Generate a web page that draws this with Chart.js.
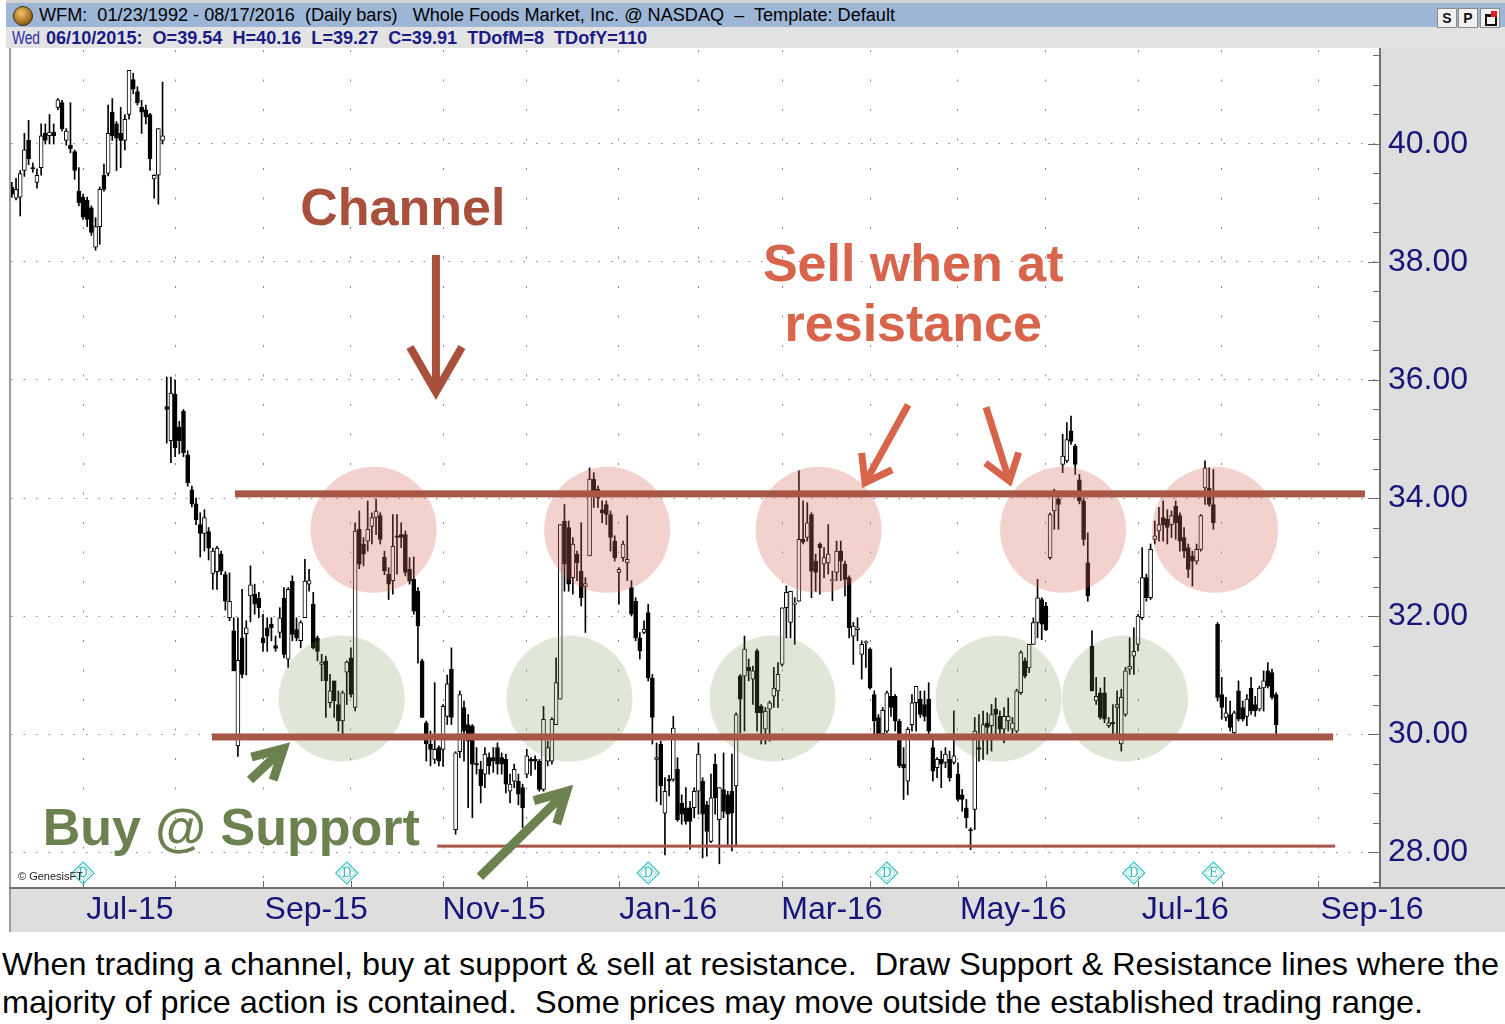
<!DOCTYPE html>
<html>
<head>
<meta charset="utf-8">
<title>WFM channel</title>
<script src="https://cdn.jsdelivr.net/npm/chart.js@4.4.1/dist/chart.umd.min.js"></script>
<style>
  html, body { margin: 0; padding: 0; background: #fff; }
  body { position: relative; width: 1505px; height: 1024px; overflow: hidden; font-family: "Liberation Sans", Arial, sans-serif; }
  #topEdge { position: absolute; left: 6px; top: 0; width: 1499px; height: 3px; background: #d2d2d2; }
  #titleBar { position: absolute; left: 6px; top: 3px; width: 1499px; height: 24px; background: #9db6d6; }
  #infoBar { position: absolute; left: 6px; top: 27px; width: 1499px; height: 21px; background: #e3e3e3; }
  .narrow { position: absolute; white-space: pre; font-family: "Liberation Sans Narrow", "Liberation Sans", Arial, sans-serif; font-size: 18px; line-height: 20px; transform-origin: 0 50%; }
  #logo { position: absolute; left: 13px; top: 6px; width: 18px; height: 18px; border-radius: 50%; background: radial-gradient(circle at 40% 35%, #f4c466, #a06a1c 65%, #4a2a08); border: 1px solid #3a2a10; }
  .btn { position: absolute; top: 8px; width: 18px; height: 18px; background: #f1f1f1; border: 1px solid #8a8a8a; font: bold 14px "Liberation Sans", Arial, sans-serif; text-align: center; line-height: 18px; color: #111; }
  .btn i { position: absolute; left: 4px; top: 5px; width: 8px; height: 7px; border: 2px solid #111; border-top-width: 3px; }
  .btn b { position: absolute; right: 2px; top: 2px; width: 6px; height: 6px; background: #e02020; }
  #chartBox { position: absolute; left: 0; top: 48px; width: 1505px; height: 884px; }
  .cap { position: absolute; left: 2px; white-space: pre; font-size: 32px; line-height: 38px; color: #000; transform-origin: 0 50%; }
</style>
</head>
<body>
<div id="topEdge"></div>
<div id="titleBar"></div>
<div id="infoBar"></div>
<div id="logo"></div>
<div id="titleText" class="narrow" style="left:39px; top:5px; color:#000;">WFM:  01/23/1992 - 08/17/2016  (Daily bars)   Whole Foods Market, Inc. @ NASDAQ  –  Template: Default</div>
<div id="wedText" class="narrow" style="left:12px; top:28px; color:#2b2ba6;">Wed</div>
<div id="barText" class="narrow" style="left:46px; top:28px; color:#1a1a86; font-weight:bold;">06/10/2015:  O=39.54  H=40.16  L=39.27  C=39.91  TDofM=8  TDofY=110</div>
<div class="btn" style="left:1437px;">S</div>
<div class="btn" style="left:1458px;">P</div>
<div class="btn" style="left:1480px;"><i></i><b></b></div>
<div id="chartBox"><canvas id="wfmChart" width="1505" height="884"></canvas></div>
<div id="capLine1" class="cap" style="top:945px;">When trading a channel, buy at support &amp; sell at resistance.  Draw Support &amp; Resistance lines where the</div>
<div id="capLine2" class="cap" style="top:983px;">majority of price action is contained.  Some prices may move outside the established trading range.</div>

<script>
// daily bars (index 0 = first visible bar, early June 2015)
const openPx = [
    39.27,39.08,39.10,39.55,40.06,39.60,39.35,39.60,40.18,40.14,
    40.20,40.62,40.70,40.06,39.98,39.87,39.20,39.10,39.05,38.92,
    38.25,38.60,39.47,39.50,40.54,40.34,40.18,40.06,40.50,41.09,
    40.89,40.62,40.58,40.50,39.41,39.47,40.06,35.55,34.97,35.76,
    35.20,35.47,34.73,34.14,33.90,33.55,33.40,33.43,32.72,32.75,
    33.05,32.70,31.97,31.75,29.80,31.63,31.70,32.34,32.37,32.30,
    31.63,31.80,31.86,31.50,31.72,32.30,31.27,32.59,31.77,31.58,
    31.97,32.54,32.20,31.63,31.18,31.24,30.53,30.90,30.50,30.22,
    31.05,31.29,30.45,33.47,33.22,33.27,33.52,33.67,33.70,33.00,
    32.71,32.60,33.36,33.38,33.38,32.79,32.62,32.42,31.24,30.19,
    29.83,29.57,29.77,29.74,30.30,31.10,28.38,29.70,30.45,30.16,
    30.14,29.50,29.40,29.32,29.60,29.60,29.77,29.60,29.57,29.03,
    29.20,29.20,29.09,29.32,29.57,29.57,29.54,29.06,29.54,29.54,
    30.16,30.59,33.61,33.50,32.65,33.05,32.76,32.50,33.02,34.32,
    34.15,33.80,33.89,33.72,33.27,32.74,32.99,32.90,32.48,32.25,
    31.63,31.72,32.06,30.95,29.57,29.83,28.66,29.23,29.23,29.40,
    28.83,28.75,28.75,28.75,29.03,29.20,28.80,28.18,29.49,28.55,
    29.06,28.97,29.03,29.12,30.98,30.98,31.13,30.93,31.41,30.47,
    30.08,30.42,30.64,30.73,31.18,32.14,31.89,32.20,32.25,33.30,
    33.33,33.72,32.93,33.22,32.88,32.90,32.60,32.74,33.10,32.88,
    32.65,31.66,31.77,31.35,31.55,31.44,30.67,30.28,30.00,30.05,
    30.64,30.64,30.22,29.49,29.20,30.16,30.53,30.59,30.50,30.59,
    29.77,29.43,29.57,29.52,29.57,29.52,29.32,28.97,28.75,28.38,
    28.72,29.77,29.99,30.19,30.14,30.42,30.30,30.08,30.22,30.08,
    30.05,30.70,31.24,31.12,31.52,31.89,32.28,32.17,32.99,33.78,
    33.98,34.57,34.63,35.14,34.88,34.31,33.95,32.90,31.49,30.56,
    30.70,30.70,30.14,30.20,30.45,29.83,30.33,31.10,31.32,31.52,
    31.97,32.65,32.31,33.30,33.44,33.67,33.64,33.55,33.86,33.70,
    33.33,33.16,33.02,32.93,33.13,34.17,34.17,33.89,31.86,30.67,
    30.28,30.33,30.02,30.73,30.45,30.30,30.78,30.50,30.42,30.78,
    31.07,31.04,30.67
];
const highPx = [
    39.35,39.42,39.55,40.18,40.40,39.68,39.58,40.34,40.34,40.50,
    40.34,40.77,40.74,40.26,40.70,39.90,39.60,39.15,39.10,38.95,
    38.75,39.27,39.66,40.66,40.77,40.38,40.62,40.50,41.25,41.20,
    40.97,40.74,40.66,40.52,39.48,40.26,41.05,36.05,36.05,36.00,
    35.30,35.50,34.80,34.20,34.00,33.75,33.80,33.50,33.15,33.18,
    33.10,32.75,32.73,31.97,31.97,32.45,31.92,32.85,32.54,32.40,
    32.03,31.97,31.97,31.66,32.14,32.48,32.48,32.68,31.97,31.92,
    32.96,32.79,32.40,31.66,31.35,31.32,31.01,30.90,30.73,30.73,
    31.24,31.46,33.58,33.78,33.33,33.95,33.75,33.98,33.75,33.10,
    32.82,33.72,33.72,33.58,33.44,32.99,33.00,32.48,31.27,30.22,
    30.05,30.87,29.80,30.50,31.00,31.46,29.70,30.73,30.56,30.33,
    30.16,29.77,29.54,29.77,29.68,29.77,29.85,29.68,29.66,29.32,
    29.49,29.32,29.15,29.74,29.60,29.63,29.57,30.47,29.88,30.28,
    31.29,33.55,33.89,33.61,33.33,33.10,33.58,32.65,34.51,34.43,
    34.20,33.95,33.95,33.78,33.36,32.82,33.27,33.70,32.60,32.31,
    31.72,31.92,32.20,31.01,29.85,29.88,29.26,29.30,30.30,29.60,
    28.97,29.09,28.86,29.09,29.85,29.26,28.86,29.32,29.66,29.09,
    29.68,29.03,29.66,30.36,31.01,31.66,31.27,31.15,31.44,30.50,
    30.45,30.56,31.13,31.21,32.14,32.51,32.42,32.31,34.46,33.95,
    33.92,33.75,33.05,33.24,33.16,33.55,32.76,33.27,33.27,32.93,
    32.68,31.89,31.97,31.58,31.58,31.46,30.73,30.33,30.45,30.73,
    31.12,30.67,30.25,29.77,30.11,30.67,30.81,30.73,30.73,30.87,
    29.94,29.60,29.71,29.77,29.71,30.39,29.51,29.06,28.89,28.41,
    30.28,30.33,30.39,30.36,30.50,30.61,30.39,30.45,30.61,30.28,
    30.76,31.41,31.29,31.52,31.97,32.62,32.31,32.23,33.75,34.15,
    34.12,35.08,35.28,35.39,34.91,34.40,34.00,33.41,31.75,30.96,
    30.78,30.96,30.28,30.50,30.73,30.76,31.13,31.63,31.80,32.03,
    33.16,32.71,33.22,33.61,33.84,33.95,33.80,33.78,33.95,33.75,
    33.50,33.22,33.10,33.22,33.72,34.63,34.51,34.48,31.89,30.96,
    30.62,30.56,30.39,30.90,30.56,30.67,30.96,30.64,30.81,31.07,
    31.21,31.10,30.70
];
const lowPx = [
    39.10,39.05,38.78,39.45,39.65,39.52,39.25,39.47,40.00,40.00,
    40.00,40.58,40.22,39.98,39.85,39.40,38.95,38.72,38.60,38.45,
    38.20,38.30,39.20,39.46,40.06,39.55,39.60,39.90,40.42,40.85,
    40.66,40.18,40.34,39.55,39.08,38.98,40.00,34.93,34.60,34.70,
    34.75,34.70,34.20,33.85,33.55,33.00,33.10,32.95,32.45,32.45,
    32.70,32.10,31.92,31.07,29.62,30.95,31.00,31.90,32.03,31.97,
    31.40,31.40,31.58,31.40,31.63,31.29,31.13,31.58,31.58,31.46,
    31.97,32.42,31.44,31.24,30.90,30.28,30.45,30.28,30.05,30.00,
    30.50,30.62,30.39,32.80,32.85,33.10,33.22,33.38,33.22,32.70,
    32.28,32.37,32.71,33.16,32.68,32.54,32.03,31.20,30.28,29.54,
    29.46,29.50,29.46,29.45,30.16,30.16,28.30,29.60,29.54,28.75,
    28.58,29.32,28.83,29.09,29.32,29.35,29.32,29.32,29.00,28.83,
    29.09,28.80,28.41,29.26,29.30,29.40,29.03,29.03,29.46,29.49,
    30.16,30.59,32.42,32.42,32.37,32.60,32.17,31.72,33.02,33.84,
    33.84,33.58,33.55,33.10,32.93,32.20,32.93,32.60,32.00,31.58,
    31.27,31.70,30.90,29.83,28.86,28.80,27.95,28.95,29.20,28.52,
    28.47,28.47,28.05,28.58,28.64,27.90,27.93,28.16,28.64,27.80,
    28.58,28.13,28.02,28.10,30.02,30.05,30.90,30.50,30.05,29.83,
    29.83,29.88,30.45,30.45,31.15,31.63,31.63,31.52,32.25,33.22,
    33.27,32.31,32.42,32.37,32.65,32.71,32.26,32.60,32.60,32.34,
    31.63,31.18,31.58,30.93,31.13,30.76,30.00,29.99,29.98,30.02,
    30.30,30.05,29.43,28.89,28.97,30.05,30.05,30.28,30.22,29.99,
    29.20,29.26,29.09,29.43,29.20,29.49,28.86,28.69,28.41,28.04,
    28.38,29.54,29.57,29.66,29.71,30.00,29.94,29.85,30.05,29.99,
    30.02,30.67,30.95,31.04,31.52,31.63,31.60,31.75,32.96,33.47,
    33.47,34.43,34.60,34.91,34.40,33.90,33.20,32.25,30.73,30.50,
    30.25,30.19,30.11,29.99,29.99,29.71,30.30,31.01,31.01,31.41,
    31.94,32.25,32.28,33.22,33.27,33.27,33.22,33.33,33.30,33.10,
    32.99,32.65,32.51,32.88,33.10,33.89,33.86,33.47,30.56,30.25,
    30.22,30.05,29.99,30.22,30.22,30.14,30.33,30.30,30.39,30.39,
    30.78,30.59,29.99
];
const closePx = [
    39.15,39.23,39.50,39.90,39.75,39.58,39.47,40.14,40.06,40.20,
    40.14,40.75,40.26,40.22,39.92,39.55,39.00,38.76,38.72,38.50,
    38.60,39.23,39.23,40.18,40.14,40.10,40.06,40.42,41.25,40.93,
    40.70,40.54,40.46,39.75,39.47,40.26,40.14,35.50,35.78,34.85,
    34.97,34.77,34.26,33.90,33.63,33.40,33.67,33.15,33.10,33.15,
    32.76,32.25,32.25,31.07,31.25,31.01,31.80,32.53,32.20,32.14,
    31.55,31.66,31.80,31.45,31.97,31.35,32.45,31.69,31.63,31.89,
    32.59,32.60,31.46,31.40,31.22,30.90,30.73,30.56,30.22,30.70,
    31.22,30.67,33.44,32.88,33.05,33.47,33.67,33.78,33.30,32.76,
    32.54,33.18,33.33,33.33,32.74,32.59,32.08,31.83,30.28,29.83,
    29.74,29.74,29.54,30.47,30.85,30.28,29.68,30.67,30.05,29.88,
    29.49,29.48,29.12,29.66,29.46,29.54,29.49,29.49,29.15,29.15,
    29.40,28.98,28.75,29.63,29.54,29.54,29.06,30.25,29.77,30.25,
    30.87,33.55,32.88,32.54,33.22,32.90,32.31,32.55,34.32,34.12,
    34.00,33.75,33.72,33.33,32.99,32.79,33.22,32.96,32.03,31.63,
    31.41,31.78,30.95,30.28,29.60,29.12,29.03,29.20,30.10,28.55,
    28.64,28.52,28.52,29.03,29.66,28.64,28.35,28.92,28.92,29.09,
    28.69,28.64,28.66,30.33,30.59,31.44,31.07,31.07,30.36,30.36,
    30.39,30.53,30.78,31.01,32.14,32.40,32.42,32.20,33.30,33.25,
    33.58,32.76,32.74,33.16,32.99,33.05,32.60,33.10,32.93,32.62,
    31.80,31.83,31.80,31.52,31.55,30.78,30.22,29.99,30.40,30.70,
    30.45,30.22,29.46,29.43,30.08,30.53,30.81,30.33,30.30,30.05,
    29.37,29.57,29.49,29.66,29.26,29.63,28.89,28.89,28.58,28.36,
    30.05,29.74,30.16,30.11,30.33,30.33,30.08,30.30,30.30,30.19,
    30.73,31.38,30.98,31.52,31.89,32.31,31.86,31.77,33.72,34.12,
    33.89,34.71,34.99,34.96,34.57,33.95,33.30,32.34,30.73,30.64,
    30.28,30.25,30.19,30.17,30.50,30.62,31.07,31.15,31.40,32.00,
    32.65,32.31,33.13,33.36,33.55,33.55,33.50,33.70,33.58,33.27,
    33.10,32.79,32.93,33.13,33.70,34.51,33.89,33.58,30.62,30.45,
    30.36,30.11,30.36,30.25,30.25,30.59,30.39,30.39,30.78,30.90,
    30.81,30.62,30.16
];

// bar index where each month begins (Jul-15 .. Sep-16)
const monthStarts = [17, 39, 60, 81, 103, 123, 145, 164, 184, 205, 226, 247, 269, 289, 312];
const monthLabelPos = [28.2, 72.7, 115.2, 156.8, 195.9, 239.2, 280.3, 324.9];
const monthLabels = ['Jul-15', 'Sep-15', 'Nov-15', 'Jan-16', 'Mar-16', 'May-16', 'Jul-16', 'Sep-16'];

// event markers under the bars
const eventIdx = [17, 80, 152, 209, 268, 287];
const eventCode = ['D', 'D', 'D', 'D', 'D', 'E'];

// channel drawing: levels, zones, arrows (bar index, price)
const channelLevels = [34.07, 29.95, 28.10];
const levelFrom = [53.3, 47.8, 101.6];
const levelTo = [323.2, 315.6, 316.1];
const sellZoneIdx = [86.4, 142.2, 192.7, 251.1, 287.4];
const sellZonePrice = 33.46;
const buyZoneIdx = [78.8, 133.2, 181.7, 235.7, 265.9];
const buyZonePrice = 30.60;
const arrowTail = [[101.3, 38.12], [214.1, 35.58], [232.7, 35.54], [56.9, 29.22], [111.8, 27.58]];
const arrowTip = [[101.3, 35.66], [203.1, 34.17], [238.7, 34.19], [66.5, 29.86], [134.1, 29.14]];

const BROWN = '#a8503c';
const LINE_BROWN = '#a85646';
const SALMON = '#d8654b';
const OLIVE = '#6b8250';

const fitText = (id, target) => {
    const el = document.getElementById(id);
    const w = el.getBoundingClientRect().width;
    if (w > 0) el.style.transform = `scaleX(${target / w})`;
};
fitText('titleText', 856);
fitText('wedText', 28);
fitText('barText', 601);
fitText('capLine1', 1497);
fitText('capLine2', 1421);

const isMajor = (v) => Math.abs(v / 2 - Math.round(v / 2)) < 1e-6;

const drawArrow = (ctx, x1, y1, x2, y2, head, spread, width, color) => {
    const ang = Math.atan2(y2 - y1, x2 - x1);
    const back = width / 2 / Math.sin(spread);
    const tx = x2 - Math.cos(ang) * back;
    const ty = y2 - Math.sin(ang) * back;
    ctx.strokeStyle = color;
    ctx.lineWidth = width;
    ctx.lineCap = 'butt';
    ctx.lineJoin = 'miter';
    ctx.miterLimit = 10;
    ctx.beginPath();
    ctx.moveTo(x1, y1);
    ctx.lineTo(tx, ty);
    ctx.stroke();
    ctx.beginPath();
    ctx.moveTo(tx - head * Math.cos(ang - spread), ty - head * Math.sin(ang - spread));
    ctx.lineTo(tx, ty);
    ctx.lineTo(tx - head * Math.cos(ang + spread), ty - head * Math.sin(ang + spread));
    ctx.stroke();
};

const frameBackground = {
    id: 'frameBackground',
    beforeDraw(chart) {
        const { ctx, chartArea, width, height } = chart;
        ctx.save();
        ctx.fillStyle = '#dedede';
        ctx.fillRect(0, 0, width, height);
        ctx.fillStyle = '#ffffff';
        ctx.fillRect(0, 0, 9, height);
        ctx.fillRect(11, 0, chartArea.right - 11, chartArea.bottom);
        ctx.restore();
    }
};

const channelNotes = {
    id: 'channelNotes',
    afterDatasetsDraw(chart) {
        const { ctx, chartArea } = chart;
        const sx = v => chart.scales.x.getPixelForValue(v);
        const sy = v => chart.scales.y.getPixelForValue(v);
        ctx.save();
        ctx.beginPath();
        ctx.rect(chartArea.left, chartArea.top, chartArea.right - chartArea.left, chartArea.bottom - chartArea.top);
        ctx.clip();

        const zone = (x, y, color) => {
            ctx.fillStyle = color;
            ctx.beginPath();
            ctx.arc(x, y, 63, 0, Math.PI * 2);
            ctx.fill();
        };
        sellZoneIdx.forEach(i => zone(sx(i), sy(sellZonePrice), 'rgba(214,104,86,0.30)'));
        buyZoneIdx.forEach(i => zone(sx(i), sy(buyZonePrice), 'rgba(112,142,78,0.22)'));

        const levelWidth = [7, 7, 3];
        channelLevels.forEach((p, k) => {
            ctx.fillStyle = LINE_BROWN;
            const y = sy(p);
            ctx.fillRect(sx(levelFrom[k]), y - levelWidth[k] / 2, sx(levelTo[k]) - sx(levelFrom[k]), levelWidth[k]);
        });

        const arrowStyle = [
            [52, Math.PI / 6, 8, BROWN],
            [30, 0.62, 7, SALMON],
            [30, 0.62, 7, SALMON],
            [33, 0.5, 9, OLIVE],
            [34, 0.5, 9, OLIVE]
        ];
        arrowTail.forEach((t, k) => {
            const [h, s, w, c] = arrowStyle[k];
            drawArrow(ctx, sx(t[0]), sy(t[1]), sx(arrowTip[k][0]), sy(arrowTip[k][1]), h, s, w, c);
        });

        ctx.font = 'bold 52px "Liberation Sans", Arial, sans-serif';
        ctx.textAlign = 'center';
        ctx.textBaseline = 'alphabetic';
        ctx.fillStyle = BROWN;
        ctx.fillText('Channel', sx(93.4), sy(38.63));
        ctx.fillStyle = SALMON;
        ctx.fillText('Sell when at', sx(215.3), sy(37.68));
        ctx.fillText('resistance', sx(215.3), sy(36.66));
        ctx.fillStyle = OLIVE;
        ctx.fillText('Buy @ Support', sx(52.4), sy(28.12));
        ctx.restore();
    },
    afterDraw(chart) {
        const { ctx, chartArea, width, height } = chart;
        const sx = v => chart.scales.x.getPixelForValue(v);
        const sy = v => chart.scales.y.getPixelForValue(v);
        ctx.save();
        // frame lines
        ctx.fillStyle = '#9c9c9c';
        ctx.fillRect(9, 0, 2, height);
        ctx.fillStyle = '#707070';
        ctx.fillRect(chartArea.right - 1, 0, 2, chartArea.bottom + 1);
        ctx.fillRect(9, chartArea.bottom, width - 9, 2);

        // price tick marks pointing into the plot
        ctx.strokeStyle = '#6a6a6a';
        ctx.lineWidth = 1;
        chart.scales.y.ticks.forEach(t => {
            const y = Math.round(sy(t.value)) + 0.5;
            const len = isMajor(t.value) ? 12 : 7;
            ctx.beginPath();
            ctx.moveTo(chartArea.right - len, y);
            ctx.lineTo(chartArea.right, y);
            ctx.stroke();
        });
        // month tick marks on the bottom edge
        monthStarts.forEach(m => {
            const x = Math.round(sx(m)) + 0.5;
            ctx.beginPath();
            ctx.moveTo(x, chartArea.bottom - 6);
            ctx.lineTo(x, chartArea.bottom);
            ctx.stroke();
        });

        // event diamonds
        const my = chartArea.bottom - 14;
        eventIdx.forEach((i, k) => {
            const x = sx(i);
            ctx.strokeStyle = '#3cc2c6';
            ctx.lineWidth = 1.2;
            ctx.beginPath();
            ctx.moveTo(x, my - 11);
            ctx.lineTo(x + 11, my);
            ctx.lineTo(x, my + 11);
            ctx.lineTo(x - 11, my);
            ctx.closePath();
            ctx.stroke();
            ctx.beginPath();
            ctx.moveTo(x, my - 8);
            ctx.lineTo(x + 8, my);
            ctx.lineTo(x, my + 8);
            ctx.lineTo(x - 8, my);
            ctx.closePath();
            ctx.lineWidth = 0.6;
            ctx.stroke();
            ctx.fillStyle = '#34b8bc';
            ctx.font = '12px "DejaVu Serif", serif';
            ctx.textAlign = 'center';
            ctx.textBaseline = 'middle';
            ctx.fillText(eventCode[k], x, my + 1);
        });

        ctx.fillStyle = '#222';
        ctx.font = '11px "Liberation Sans", Arial, sans-serif';
        ctx.textAlign = 'left';
        ctx.textBaseline = 'middle';
        ctx.fillText('\u00a9 GenesisFT', 18, chartArea.bottom - 10);
        ctx.restore();
    }
};

const days = openPx.map((_, i) => i);
const bodyData = days.map(i => ({ x: i, y: [Math.min(openPx[i], closePx[i]), Math.max(openPx[i], closePx[i])] }));
const wickData = days.map(i => ({ x: i, y: [lowPx[i], highPx[i]] }));
const bodyFill = days.map(i => (closePx[i] >= openPx[i] ? '#ffffff' : '#000000'));

Chart.defaults.font.family = '"Liberation Sans", Arial, sans-serif';

const xMin = -0.2;
const xMax = 326.8;

new Chart(document.getElementById('wfmChart').getContext('2d'), {
    type: 'bar',
    data: {
        datasets: [
            {
                label: 'Body',
                data: bodyData,
                backgroundColor: bodyFill,
                borderColor: '#000000',
                borderWidth: 1,
                borderSkipped: false,
                barThickness: 4,
                minBarLength: 1,
                grouped: false,
                order: 1
            },
            {
                label: 'Range',
                data: wickData,
                backgroundColor: '#000000',
                borderWidth: 0,
                barThickness: 1,
                grouped: false,
                order: 2
            }
        ]
    },
    options: {
        responsive: false,
        animation: false,
        devicePixelRatio: 1,
        layout: { padding: { left: 11, top: 2, right: 0, bottom: 0 } },
        plugins: {
            legend: { display: false },
            tooltip: { enabled: false }
        },
        scales: {
            x: {
                type: 'linear',
                position: 'bottom',
                min: xMin,
                max: xMax,
                offset: false,
                afterBuildTicks: (s) => { s.ticks = monthStarts.map(v => ({ value: v })); },
                afterFit: (s) => { s.height = 0; s.paddingLeft = 0; s.paddingRight = 0; },
                ticks: { display: false },
                grid: { color: '#8a8a8a', lineWidth: 1, drawTicks: false, offset: false },
                border: { display: false, dash: [2, 27.5] }
            },
            x2: {
                type: 'linear',
                position: 'bottom',
                min: xMin,
                max: xMax,
                offset: false,
                afterBuildTicks: (s) => { s.ticks = monthLabelPos.map(v => ({ value: v })); },
                afterFit: (s) => { s.height = 45; s.paddingLeft = 0; s.paddingRight = 0; },
                ticks: {
                    autoSkip: false,
                    maxRotation: 0,
                    padding: 4,
                    color: '#15157a',
                    font: { size: 32 },
                    callback: (v) => {
                        const k = monthLabelPos.indexOf(v);
                        return k >= 0 ? monthLabels[k] : '';
                    }
                },
                grid: { display: false, drawTicks: false },
                border: { display: false }
            },
            y: {
                type: 'linear',
                position: 'right',
                min: 27.407,
                max: 41.593,
                afterFit: (s) => { s.width = 125; s.paddingTop = 0; s.paddingBottom = 0; },
                ticks: {
                    stepSize: 0.5,
                    includeBounds: false,
                    autoSkip: false,
                    padding: 8,
                    color: '#15157a',
                    font: { size: 32 },
                    callback: (v) => (isMajor(v) ? v.toFixed(2) : '')
                },
                grid: {
                    color: (c) => (c.tick && isMajor(c.tick.value) ? '#8a8a8a' : 'rgba(0,0,0,0)'),
                    lineWidth: 1,
                    drawTicks: false
                },
                border: { display: false, dash: [1.5, 11] }
            }
        }
    },
    plugins: [frameBackground, channelNotes]
});
</script>
</body>
</html>
